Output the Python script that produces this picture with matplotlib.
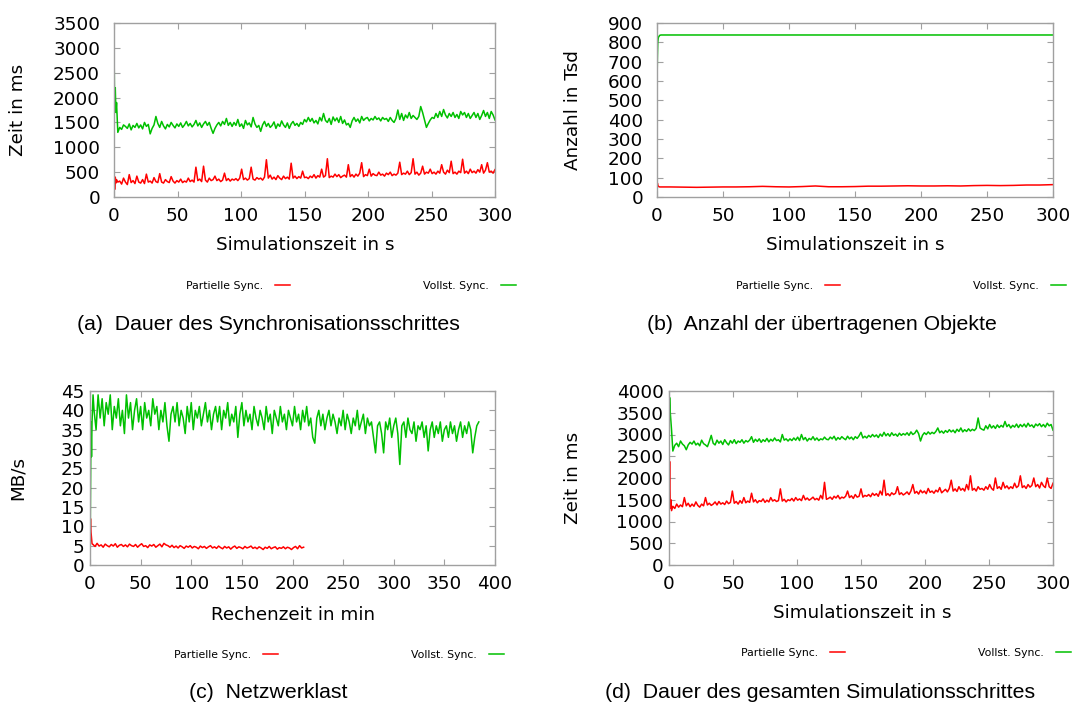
import numpy as np
import matplotlib
matplotlib.use("Agg")
import matplotlib.pyplot as plt

W, H = 1077, 707
RED = "#ff0000"
GREEN = "#00c000"

# ---- (a) Dauer des Synchronisationsschrittes ----
t_a = np.concatenate([[0, 0.5, 1, 1.5, 2, 3], np.arange(4.5, 300.1, 1.5)])
voll_a = [3100, 1750, 2200, 1700, 1900, 1300,
          1400, 1360, 1450, 1420, 1380, 1470, 1350, 1440, 1400, 1480, 1390, 1450, 1370, 1500, 1420, 1460, 1270, 1380, 1450, 1620,
          1480, 1400, 1520, 1430, 1370, 1460, 1410, 1500, 1440, 1390, 1470, 1420, 1490, 1400, 1450, 1520, 1430, 1480, 1410, 1460,
          1540, 1430, 1490, 1400, 1470, 1520, 1440, 1500, 1380, 1280, 1380, 1450, 1500, 1430, 1520, 1460, 1580, 1440, 1500, 1420,
          1500, 1440, 1560, 1420, 1470, 1380, 1540, 1450, 1490, 1410, 1600, 1470, 1400, 1440, 1320, 1450, 1520, 1420, 1480, 1400,
          1440, 1510, 1380, 1470, 1420, 1530, 1450, 1400, 1490, 1380, 1470, 1520, 1440, 1480, 1420, 1500, 1460, 1560, 1510, 1600,
          1520, 1580, 1490, 1540, 1470, 1600, 1530, 1680, 1540, 1500, 1580, 1460, 1610, 1530, 1590, 1500, 1620, 1480, 1550, 1450,
          1480, 1400, 1530, 1600, 1520, 1570, 1490, 1620, 1540, 1580, 1600, 1530, 1580, 1550, 1620, 1560, 1590, 1530, 1600, 1560,
          1580, 1520, 1600, 1540, 1500, 1580, 1750, 1560, 1680, 1540, 1650, 1590, 1700, 1580, 1640, 1600, 1560, 1620, 1820, 1700,
          1550, 1400, 1480, 1550, 1600, 1580, 1680, 1600, 1720, 1620, 1760, 1650, 1590, 1680, 1620, 1700, 1600, 1660, 1580, 1720,
          1650, 1700, 1600, 1680, 1580, 1640, 1700, 1600, 1680, 1560, 1640, 1740, 1620, 1700, 1580, 1720, 1650, 1550]
part_a = [580, 150, 400, 280, 350, 300,
          320, 260, 380, 300, 250, 450, 290, 330, 270, 420, 300, 280, 350, 270, 460, 300, 320, 280, 390, 310,
          290, 470, 300, 280, 350, 310, 290, 410, 320, 280, 330, 300, 360, 290, 320, 300, 380, 310, 340, 300,
          600, 330, 360, 310, 620, 340, 300, 380, 330, 350, 420, 330, 360, 310, 340, 480, 330, 370, 320, 360,
          340, 370, 330, 380, 560, 350, 380, 340, 370, 600, 360, 340, 390, 360, 380, 340, 400, 750, 380, 440,
          360, 400, 350, 430, 380, 350, 420, 370, 400, 360, 680, 380, 420, 370, 410, 380, 520, 390, 400, 370,
          420, 390, 450, 380, 430, 400, 560, 400, 430, 770, 390, 420, 400, 460, 410, 450, 390, 420, 440, 400,
          650, 410, 450, 400, 460, 420, 480, 690, 410, 450, 430, 560, 420, 470, 440, 430, 500, 440, 460, 420,
          480, 450, 500, 430, 460, 440, 480, 700, 450, 480, 460, 520, 450, 490, 770, 460, 500, 440, 480, 620,
          460, 500, 480, 560, 470, 500, 460, 520, 480, 650, 500, 460, 540, 490, 720, 470, 500, 460, 520, 490,
          760, 480, 520, 470, 560, 490, 520, 480, 550, 500, 650, 480, 540, 690, 500, 520, 480, 550]

# ---- (b) Anzahl der uebertragenen Objekte ----
t_b = np.concatenate([[0, 0.3, 0.6, 1, 2, 3], np.arange(10, 301, 10)])
voll_b = [580, 720, 800, 825, 836, 838] + [838] * 30
part_b = [0, 72, 60, 55, 52, 52,
          52, 51, 50, 51, 52, 52, 53, 55, 53, 52, 54, 57, 53, 53, 54,
          56, 56, 57, 58, 57, 57, 58, 57, 59, 60, 59, 60, 62, 62, 64]

# ---- (c) Netzwerklast ----
t_c_voll = np.concatenate([[0, 0.5, 1, 1.5, 2, 3, 4], np.arange(6, 385, 2)])
voll_c = [0, 20, 37, 28, 37, 44, 40,
          35, 44, 38, 43, 36, 42, 39, 44, 35, 41, 38, 43, 36, 40, 34, 44, 38, 42, 35, 40,
          43, 37, 41, 35, 42, 38, 40, 36, 43, 39, 41, 35, 40, 37, 42, 36, 32, 39, 41, 37,
          42, 36, 40, 38, 34, 41, 37, 42, 35, 40, 38, 41, 36, 39, 42, 37, 40, 35, 39, 41,
          37, 41, 35, 40, 38, 42, 36, 39, 37, 41, 33, 39, 42, 36, 40, 37, 39, 35, 41, 38,
          36, 40, 38, 35, 41, 37, 39, 34, 40, 38, 36, 41, 37, 39, 35, 40, 38, 36, 41, 37,
          39, 35, 40, 37, 41, 36, 38, 33, 31.5, 38, 40, 36, 39, 35, 38, 40, 36, 39, 37, 34,
          38, 36, 40, 35, 39, 37, 34, 38, 36, 40, 35, 37, 39, 34, 38, 36, 37, 33, 29, 36,
          37, 34, 29, 37, 35, 38, 33, 36, 38, 34, 26, 36, 37, 33, 38, 35, 34, 37, 32, 36,
          35, 37, 33, 36, 29.5, 35, 37, 33, 36, 34, 37, 32, 35, 36, 33, 37, 34, 36, 32, 35,
          37, 33, 36, 34, 37, 35, 29, 33, 36, 37]
t_c_part = np.concatenate([[0, 0.5, 1, 2], np.arange(3, 212, 2)])
part_c = [7, 12, 8.5, 5.5,
          5.3, 4.8, 5.6, 4.9, 5.2, 4.6, 5.4, 5.0, 4.7, 5.3, 4.9, 5.5, 4.6, 5.1, 5.3, 4.8, 5.2, 4.7, 5.4, 5.0,
          4.8, 5.3, 4.6, 5.1, 5.5, 4.8, 5.0, 4.5, 5.2, 4.9, 5.3, 4.6, 5.0, 5.4, 4.7, 5.6, 5.2, 5.0, 4.6, 5.1,
          4.5, 4.9, 4.4, 5.0, 4.7, 4.3, 4.9, 4.6, 5.0, 4.4, 4.8, 4.6, 4.2, 4.9, 4.5, 4.8, 4.3, 4.7, 5.0, 4.4,
          4.7, 4.3, 4.9, 4.5, 4.2, 4.8, 4.4, 4.7, 4.1, 4.6, 4.9, 4.3, 4.7, 4.5, 4.2, 4.8, 4.4, 4.6, 4.9, 4.3,
          4.6, 4.2, 4.7, 4.4, 4.0, 4.6, 4.3, 4.8, 4.2, 4.5, 4.7, 4.1, 4.5, 4.3, 4.7, 4.2, 4.6, 4.4, 4.0, 4.5,
          4.8, 4.2, 5.0, 4.4, 4.6]

# ---- (d) Dauer des gesamten Simulationsschrittes ----
t_d = t_a
voll_d = [3000, 3850, 3500, 3300, 3100, 2620,
          2750, 2800, 2720, 2850, 2780, 2740, 2650, 2760, 2820, 2780, 2850, 2760, 2800, 2740, 2870, 2790, 2760, 2720, 2840, 2980,
          2800, 2760, 2870, 2800, 2850, 2770, 2880, 2810, 2760, 2860, 2800, 2880, 2790, 2850, 2820, 2880, 2800, 2860, 2830, 2870,
          2950, 2820, 2890, 2840, 2900, 2820, 2880, 2840, 2910, 2830, 2890, 2850, 2920, 2860, 2880, 2830, 3000, 2870, 2900, 2850,
          2900, 2860, 2920, 2870, 2940, 2860, 3000, 2880, 2930, 2850, 2910, 2880, 2950, 2870, 2920, 2860, 2900, 2880, 2940, 2890,
          2880, 2940, 2900, 2960, 2870, 2930, 2890, 2950, 2910, 2880, 2960, 2900, 2940, 2880, 2950, 2910, 2970, 3050, 2920, 2960,
          2920, 2980, 2940, 3000, 2950, 2990, 2930, 3010, 2960, 3050, 2970, 3020, 2960, 3040, 2980, 3010, 2960, 3030, 2980, 3020,
          2990, 3040, 2980, 3060, 3000, 3030, 3100, 3020, 2850, 2980, 3040, 3000, 3060, 3010, 3050, 3020, 3070, 3150, 3040, 3080,
          3030, 3090, 3050, 3110, 3060, 3100, 3040, 3120, 3070, 3150, 3060, 3110, 3070, 3130, 3080, 3120, 3090, 3140, 3380, 3150,
          3120, 3100, 3200, 3130, 3230, 3150, 3200, 3140, 3220, 3160, 3210, 3170, 3300, 3180, 3230, 3150, 3210, 3170, 3240, 3160,
          3230, 3180, 3240, 3170, 3260, 3190, 3220, 3160, 3240, 3200, 3250, 3180, 3230, 3170, 3260, 3200, 3230, 3100]
part_d = [1400, 2380, 1300, 1500, 1250, 1350,
          1300, 1400, 1330, 1380, 1340, 1550, 1360, 1420, 1340, 1400, 1350, 1450, 1370, 1330, 1400, 1360, 1550, 1380, 1420, 1370,
          1400, 1450, 1380, 1460, 1400, 1430, 1390, 1470, 1410, 1440, 1700, 1420, 1460, 1400, 1480, 1420, 1550, 1430, 1470, 1440,
          1650, 1450, 1500, 1430, 1480, 1460, 1520, 1440, 1490, 1450, 1550, 1470, 1500, 1460, 1480, 1750, 1470, 1510, 1450, 1500,
          1480, 1530, 1470, 1550, 1490, 1520, 1480, 1600, 1500, 1540, 1490, 1520, 1560, 1500, 1530, 1490, 1600, 1520, 1900, 1510,
          1530, 1560, 1510, 1580, 1540, 1600, 1520, 1560, 1540, 1580, 1700, 1550, 1590, 1530, 1620, 1560, 1580, 1750, 1560, 1600,
          1580, 1620, 1570, 1650, 1600, 1640, 1580, 1700, 1610, 1950, 1600, 1640, 1590, 1660, 1620, 1650, 1800, 1620, 1660, 1610,
          1640, 1680, 1620, 1700, 1850, 1650, 1690, 1630, 1720, 1660, 1700, 1640, 1760, 1670, 1700, 1650, 1720, 1680, 1780, 1660,
          1700, 1740, 1680, 1760, 1950, 1700, 1750, 1690, 1800, 1720, 1760, 1700, 1850, 1730, 2050, 1720, 1760, 1700, 1800, 1740,
          1760, 1720, 1800, 1740, 1850, 1760, 1720, 2000, 1760, 1800, 1740, 1900, 1770, 1820, 1750, 1800, 1760, 1880, 1780, 1820,
          2050, 1780, 1820, 1760, 1850, 1790, 1830, 2000, 1800, 1850, 1770, 1900, 1820, 1780, 2000, 1800, 1760, 1880]

fig = plt.figure(figsize=(W / 100, H / 100), dpi=100)
plt.rcParams['font.family'] = 'DejaVu Sans'
FS = 13.2


def px_axes(l, t, r, b):
    return fig.add_axes([l / W, 1 - b / H, (r - l) / W, (b - t) / H])


def style(ax, xmax, xstep, ymax, ystep, ypad):
    ax.set_xlim(0, xmax)
    ax.set_ylim(0, ymax)
    ax.set_xticks(np.arange(0, xmax + 1, xstep))
    ax.set_yticks(np.arange(0, ymax + 0.1, ystep))
    for s in ax.spines.values():
        s.set_color("#a0a0a0")
        s.set_linewidth(1)
    ax.tick_params(direction="in", length=4, color="#a0a0a0", top=True, right=True,
                   labelsize=FS, labelcolor="black")
    ax.tick_params(axis="x", pad=7)
    ax.tick_params(axis="y", pad=ypad)


def ftext(x, y, s, **kw):
    fig.text(x / W, 1 - y / H, s, ha="center", va="center", **kw)


def legend(ax, cx, cy):
    ax.legend(loc="center", bbox_to_anchor=(cx / W, 1 - cy / H), bbox_transform=fig.transFigure,
              ncol=2, frameon=False, markerfirst=False, fontsize=7.8, handlelength=1.4,
              handletextpad=1.1, columnspacing=12.3)


# (a)
ax = px_axes(114, 23, 495, 197)
ax.plot(t_a, part_a, color=RED, lw=1.1, label="Partielle Sync.")
ax.plot(t_a, voll_a, color=GREEN, lw=1.1, label="Vollst. Sync.")
style(ax, 300, 50, 3500, 500, 10)
legend(ax, 351, 286)
ftext(18, 110, "Zeit in ms", rotation=90, fontsize=FS)
ftext(305, 245, "Simulationszeit in s", fontsize=FS)

# (b)
ax = px_axes(657, 23, 1053, 197)
ax.plot(t_b, part_b, color=RED, lw=1.1, label="Partielle Sync.")
ax.plot(t_b, voll_b, color=GREEN, lw=1.1, label="Vollst. Sync.")
style(ax, 300, 50, 900, 100, 10)
legend(ax, 901, 286)
ftext(573, 110, "Anzahl in Tsd", rotation=90, fontsize=FS)
ftext(855, 245, "Simulationszeit in s", fontsize=FS)

# (c)
ax = px_axes(90, 391, 495, 565)
ax.plot(t_c_part, part_c, color=RED, lw=1.1, label="Partielle Sync.")
ax.plot(t_c_voll, voll_c, color=GREEN, lw=1.1, label="Vollst. Sync.")
style(ax, 400, 50, 45, 5, 4)
legend(ax, 339, 655)
ftext(18, 478, "MB/s", rotation=90, fontsize=FS)
ftext(293, 615, "Rechenzeit in min", fontsize=FS)

# (d)
ax = px_axes(669, 391, 1053, 565)
ax.plot(t_d, part_d, color=RED, lw=1.1, label="Partielle Sync.")
ax.plot(t_d, voll_d, color=GREEN, lw=1.1, label="Vollst. Sync.")
style(ax, 300, 50, 4000, 500, 4)
legend(ax, 906, 653)
ftext(573, 478, "Zeit in ms", rotation=90, fontsize=FS)
ftext(862, 613, "Simulationszeit in s", fontsize=FS)

cap = dict(fontsize=15.3, family="Liberation Sans")
ftext(268, 325, "(a)  Dauer des Synchronisationsschrittes", **cap)
ftext(822, 325, "(b)  Anzahl der übertragenen Objekte", **cap)
ftext(268, 693, "(c)  Netzwerklast", **cap)
ftext(820, 693, "(d)  Dauer des gesamten Simulationsschrittes", **cap)

fig.savefig("out.png", dpi=100)
